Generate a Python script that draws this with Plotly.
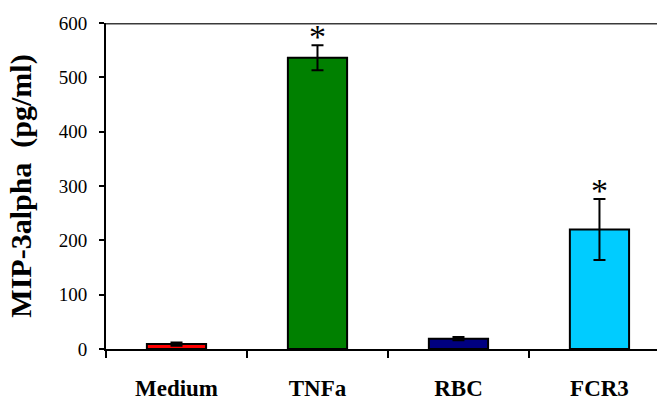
import plotly.graph_objects as go

categories = ["Medium", "TNFa", "RBC", "FCR3"]
values = [9, 536, 19, 220]
errors = [3, 23, 3, 56]
colors = ["#FF0000", "#008000", "#000080", "#00CCFF"]
significant = [False, True, False, True]

xpos = list(range(len(categories)))

fig = go.Figure()
fig.add_trace(go.Bar(
    x=xpos, y=values, width=0.42,
    marker=dict(color=colors, line=dict(color="black", width=2)),
    error_y=dict(type="data", array=errors, visible=True, color="black",
                 thickness=2, width=6),
    showlegend=False,
))

for x, v, e, s in zip(xpos, values, errors, significant):
    if s:
        fig.add_annotation(x=x, y=v + e, text="*", showarrow=False,
                           yanchor="bottom", yshift=-12,
                           font=dict(family="Liberation Serif", size=34, color="black"))

fig.add_shape(type="line", xref="paper", yref="y", x0=0, x1=1, y0=600, y1=600,
              line=dict(color="#3a3a3a", width=3))

fig.update_layout(
    width=657, height=401,
    margin=dict(l=106, r=0, t=23, b=48),
    paper_bgcolor="white", plot_bgcolor="white",
    bargap=0.58,
    font=dict(family="Liberation Serif", color="black"),
)
fig.update_xaxes(
    range=[-0.5, 3.408],
    tickmode="array", tickvals=xpos, ticktext=categories,
    ticks="", showgrid=False, zeroline=False,
    showline=True, linecolor="black", linewidth=2,
    tickfont=dict(family="Liberation Serif", size=23, color="black", weight="bold"),
    ticklabelstandoff=17,
    minor=dict(ticks="outside", tick0=-0.5, dtick=1, ticklen=7, tickwidth=2,
               tickcolor="black", showgrid=False),
)
fig.update_yaxes(
    range=[0, 600], tickvals=[0, 100, 200, 300, 400, 500, 600],
    ticks="outside", ticklen=5, tickwidth=2, tickcolor="black",
    showgrid=False, zeroline=False,
    showline=True, linecolor="black", linewidth=2,
    ticklabelstandoff=8,
    tickfont=dict(family="Liberation Serif", size=19, color="black"),
    title=dict(text="MIP-3alpha  (pg/ml)", standoff=18,
               font=dict(family="Liberation Serif", size=30, color="black", weight="bold")),
)

fig.write_html("out.html")
